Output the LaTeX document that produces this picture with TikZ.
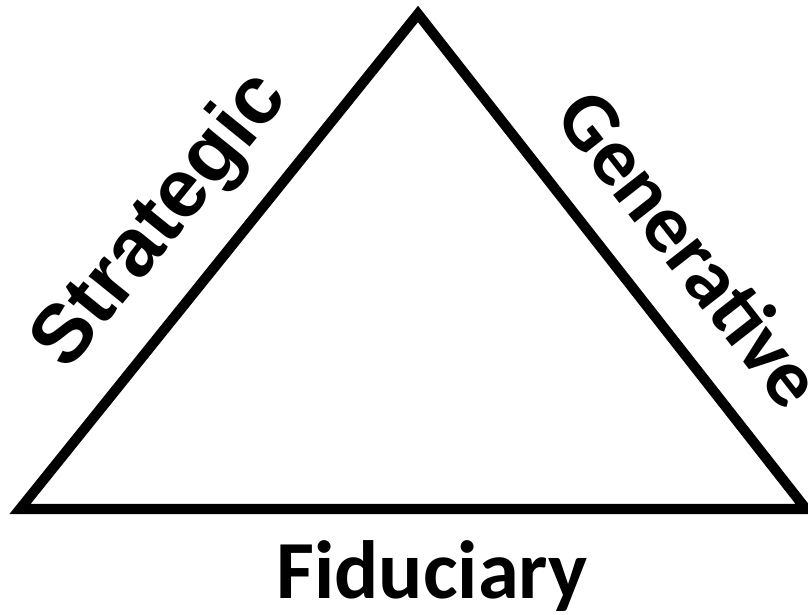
\documentclass[tikz,border=0pt]{standalone}
\usepackage{fontspec}
\setmainfont{Carlito}
\newfontfamily\arialfont{Liberation Sans}
\tikzset{
  lbl/.style={font=\fontsize{47}{56}\selectfont\bfseries, inner sep=0pt},
  albl/.style={font=\arialfont\fontsize{47}{56}\selectfont\bfseries, inner sep=0pt},
  side/.style={line width=5.8pt, line join=miter}
}
\begin{document}
\begin{tikzpicture}[x=0.02cm,y=-0.02cm]
\useasboundingbox (0,0) rectangle (808,615);
\coordinate (top) at (418,14);
\coordinate (bl) at (20,509);
\coordinate (br) at (806,509);
\draw[side] (bl)--(top)--(br)--cycle;

\node[albl,rotate=51] (strat) at (162,222) {Strategic};
\node[lbl,rotate=-52] (gen) at (691,248) {Generative};
\node[lbl] (fid) at (432,576) {Fiduciary};
\end{tikzpicture}
\end{document}
